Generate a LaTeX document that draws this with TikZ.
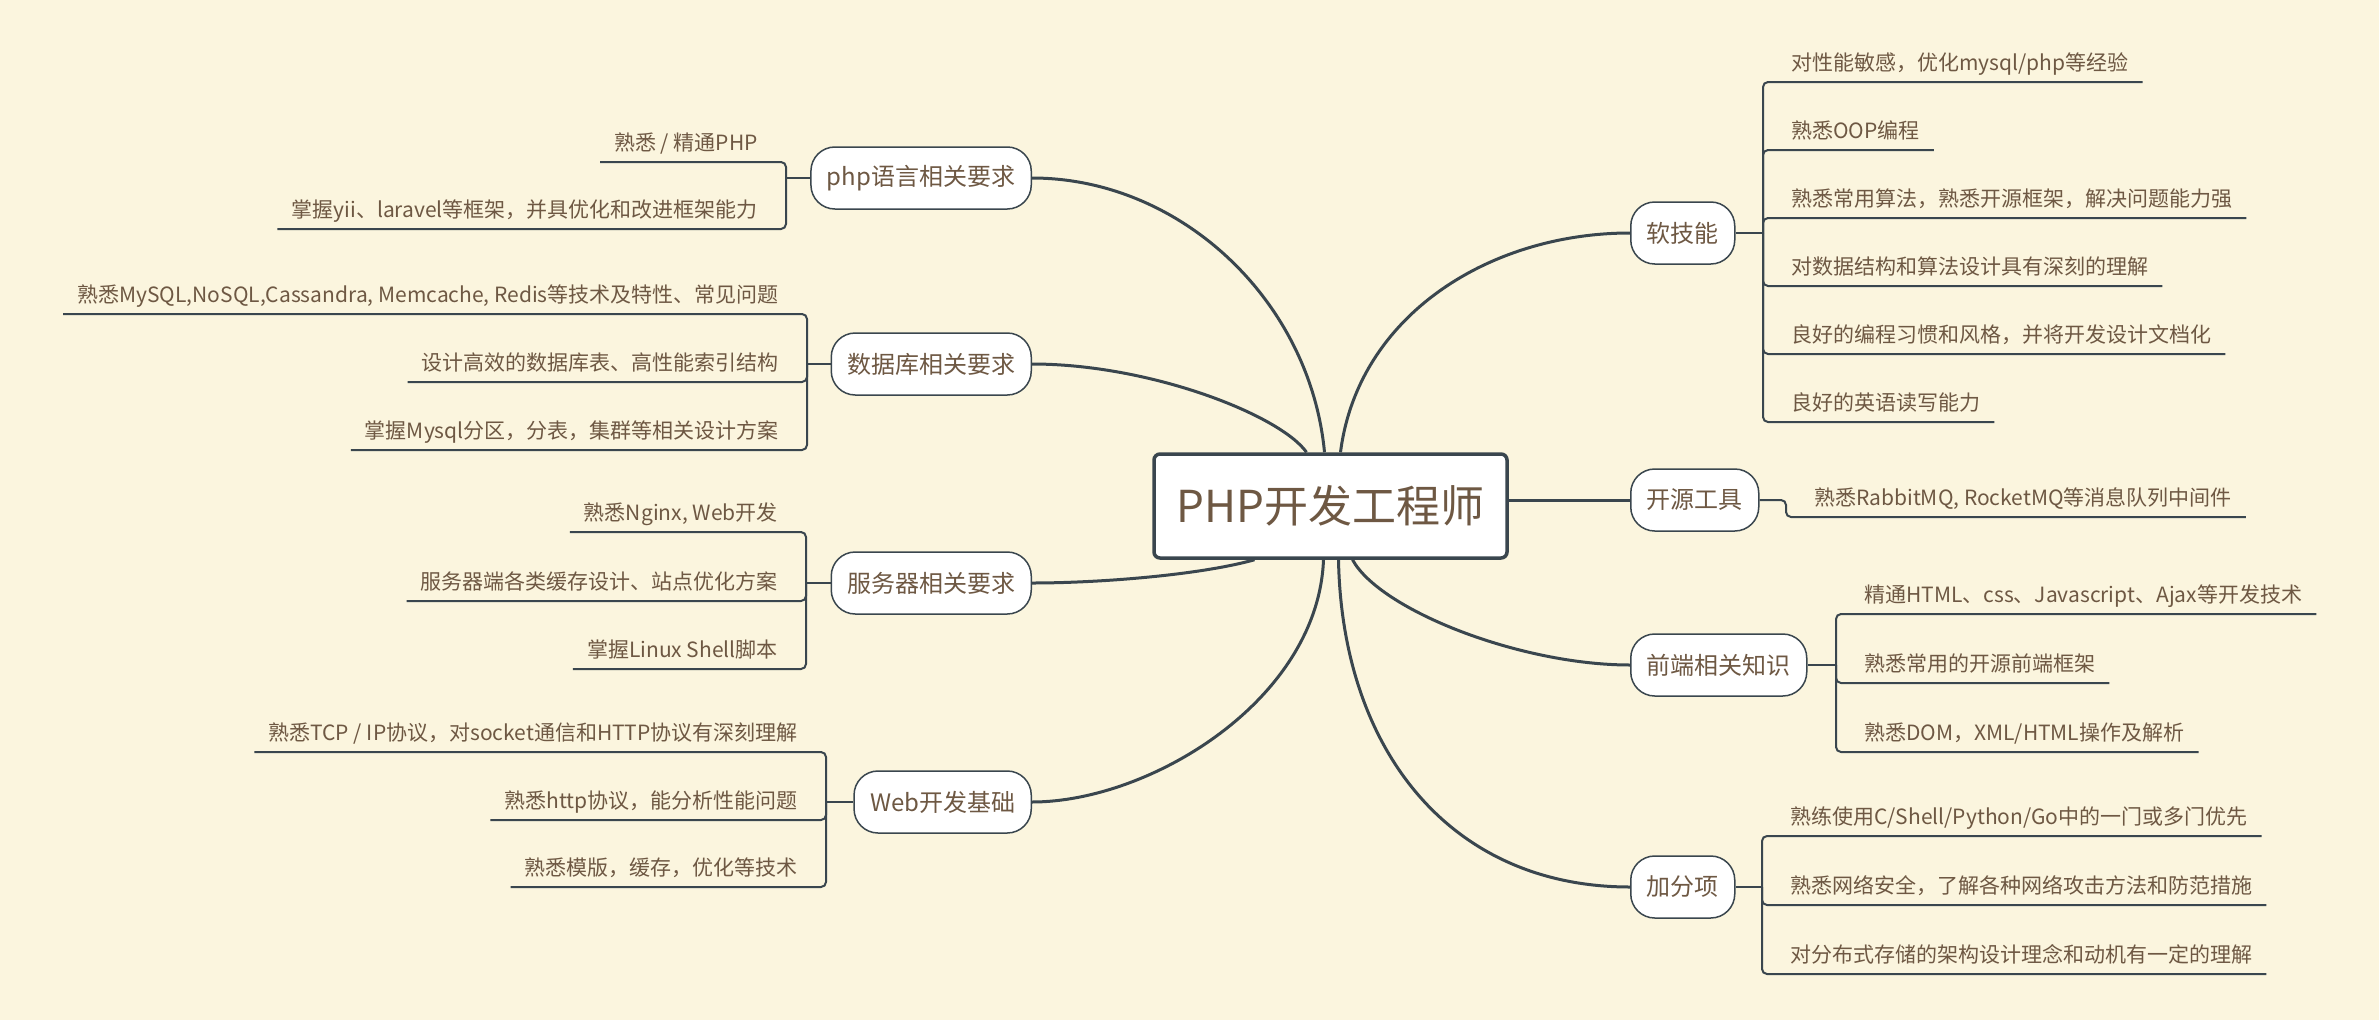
\documentclass[tikz,border=0pt]{standalone}
\usepackage{fontspec}
\newfontfamily\cjk{Noto Sans CJK SC}
\definecolor{paper}{RGB}{251,245,222}
\definecolor{ink}{RGB}{110,88,67}
\definecolor{wire}{RGB}{58,70,78}

\begin{document}
\begin{tikzpicture}[x=1pt, y=-1pt,
        curve/.style={draw=wire, line width=3pt},
        branch/.style={draw=wire, line width=2pt, rounded corners=5pt},
        root/.style={draw=wire, line width=3.5pt, fill=white, rounded corners=6pt, text=ink,
            font=\cjk\fontsize{44}{50}\selectfont, minimum width=353pt, minimum height=104pt},
        topic/.style={draw=wire, line width=1.5pt, fill=white, rounded corners=24pt, text=ink,
            font=\cjk\fontsize{24}{28}\selectfont, minimum height=62pt, inner xsep=16pt},
        leaf/.style={text=ink, font=\cjk\fontsize{21}{25}\selectfont, inner xsep=14pt,
            inner ysep=0pt, text height=18pt, text depth=11pt}]

        \path[use as bounding box, fill=paper] (0,0) rectangle (2379,1020);

        \node[root] (main) at (1330.5,506) {PHP开发工程师};

        \node[topic, anchor=east] (php) at (1032,178) {php语言相关要求};
        \node[topic, anchor=east] (db) at (1032,364) {数据库相关要求};
        \node[topic, anchor=east] (server) at (1032,583) {服务器相关要求};
        \node[topic, anchor=east] (web) at (1032,802) {Web开发基础};

        \node[topic, anchor=west] (soft) at (1630,233) {软技能};
        \node[topic, anchor=west] (tools) at (1630,500) {开源工具};
        \node[topic, anchor=west] (front) at (1630,665) {前端相关知识};
        \node[topic, anchor=west] (bonus) at (1630,887) {加分项};

        \draw[curve] (main.north) ++(-6,0) .. controls (1310,300) and (1180,178) .. (php.east);
        \draw[curve] (main.north) ++(-24,0) .. controls (1280,415) and (1150,364) .. (db.east);
        \draw[curve] (main.south) ++(-76,0) .. controls (1200,575) and (1100,583) .. (server.east);
        \draw[curve] (main.south) ++(-7,0) .. controls (1318,700) and (1150,802) .. (web.east);
        \draw[curve] (main.north) ++(10,0) .. controls (1358,315) and (1490,233) .. (soft.west);
        \draw[curve] (tools.west) -- (tools.west -| main.east);
        \draw[curve] (main.south) ++(22,0) .. controls (1380,610) and (1520,665) .. (front.west);
        \draw[curve] (main.south) ++(8,0) .. controls (1342,750) and (1450,887) .. (bonus.west);

        \coordinate (phpJ) at (786,178);
        \node[leaf, anchor=south east] (p1) at (772,162) {熟悉 / 精通PHP};
        \node[leaf, anchor=south east] (p2) at (772,229) {掌握yii、laravel等框架，并具优化和改进框架能力};
        \draw[branch] (php.west) -- (phpJ);
        \draw[branch] (phpJ) |- (p1.south west);
        \draw[branch] (phpJ) |- (p2.south west);

        \coordinate (dbJ) at (807,364);
        \node[leaf, anchor=south east] (d1) at (793,314) {熟悉MySQL,NoSQL,Cassandra, Memcache, Redis等技术及特性、常见问题};
        \node[leaf, anchor=south east] (d2) at (793,382) {设计高效的数据库表、高性能索引结构};
        \node[leaf, anchor=south east] (d3) at (793,450) {掌握Mysql分区，分表，集群等相关设计方案};
        \draw[branch] (db.west) -- (dbJ);
        \draw[branch] (dbJ) |- (d1.south west);
        \draw[branch] (dbJ) |- (d2.south west);
        \draw[branch] (dbJ) |- (d3.south west);

        \coordinate (serverJ) at (806,583);
        \node[leaf, anchor=south east] (v1) at (792,532) {熟悉Nginx, Web开发};
        \node[leaf, anchor=south east] (v2) at (792,601) {服务器端各类缓存设计、站点优化方案};
        \node[leaf, anchor=south east] (v3) at (792,669) {掌握Linux Shell脚本};
        \draw[branch] (server.west) -- (serverJ);
        \draw[branch] (serverJ) |- (v1.south west);
        \draw[branch] (serverJ) |- (v2.south west);
        \draw[branch] (serverJ) |- (v3.south west);

        \coordinate (webJ) at (826,802);
        \node[leaf, anchor=south east] (w1) at (812,752) {熟悉TCP / IP协议，对socket通信和HTTP协议有深刻理解};
        \node[leaf, anchor=south east] (w2) at (812,820) {熟悉http协议，能分析性能问题};
        \node[leaf, anchor=south east] (w3) at (812,887) {熟悉模版，缓存，优化等技术};
        \draw[branch] (web.west) -- (webJ);
        \draw[branch] (webJ) |- (w1.south west);
        \draw[branch] (webJ) |- (w2.south west);
        \draw[branch] (webJ) |- (w3.south west);

        \coordinate (softJ) at (1763,233);
        \node[leaf, anchor=south west] (s1) at (1777,82) {对性能敏感，优化mysql/php等经验};
        \node[leaf, anchor=south west] (s2) at (1777,150) {熟悉OOP编程};
        \node[leaf, anchor=south west] (s3) at (1777,218) {熟悉常用算法，熟悉开源框架，解决问题能力强};
        \node[leaf, anchor=south west] (s4) at (1777,286) {对数据结构和算法设计具有深刻的理解};
        \node[leaf, anchor=south west] (s5) at (1777,354) {良好的编程习惯和风格，并将开发设计文档化};
        \node[leaf, anchor=south west] (s6) at (1777,422) {良好的英语读写能力};
        \draw[branch] (soft.east) -- (softJ);
        \draw[branch] (softJ) |- (s1.south east);
        \draw[branch] (softJ) |- (s2.south east);
        \draw[branch] (softJ) |- (s3.south east);
        \draw[branch] (softJ) |- (s4.south east);
        \draw[branch] (softJ) |- (s5.south east);
        \draw[branch] (softJ) |- (s6.south east);

        \coordinate (toolsJ) at (1786,500);
        \node[leaf, anchor=south west] (t1) at (1800,517) {熟悉RabbitMQ, RocketMQ等消息队列中间件};
        \draw[branch] (tools.east) -- (toolsJ) |- (t1.south east);

        \coordinate (frontJ) at (1836,665);
        \node[leaf, anchor=south west] (f1) at (1850,614) {精通HTML、css、Javascript、Ajax等开发技术};
        \node[leaf, anchor=south west] (f2) at (1850,683) {熟悉常用的开源前端框架};
        \node[leaf, anchor=south west] (f3) at (1850,752) {熟悉DOM，XML/HTML操作及解析};
        \draw[branch] (front.east) -- (frontJ);
        \draw[branch] (frontJ) |- (f1.south east);
        \draw[branch] (frontJ) |- (f2.south east);
        \draw[branch] (frontJ) |- (f3.south east);

        \coordinate (bonusJ) at (1762,887);
        \node[leaf, anchor=south west] (b1) at (1776,836) {熟练使用C/Shell/Python/Go中的一门或多门优先};
        \node[leaf, anchor=south west] (b2) at (1776,905) {熟悉网络安全，了解各种网络攻击方法和防范措施};
        \node[leaf, anchor=south west] (b3) at (1776,974) {对分布式存储的架构设计理念和动机有一定的理解};
        \draw[branch] (bonus.east) -- (bonusJ);
        \draw[branch] (bonusJ) |- (b1.south east);
        \draw[branch] (bonusJ) |- (b2.south east);
        \draw[branch] (bonusJ) |- (b3.south east);
    \end{tikzpicture}
\end{document}
